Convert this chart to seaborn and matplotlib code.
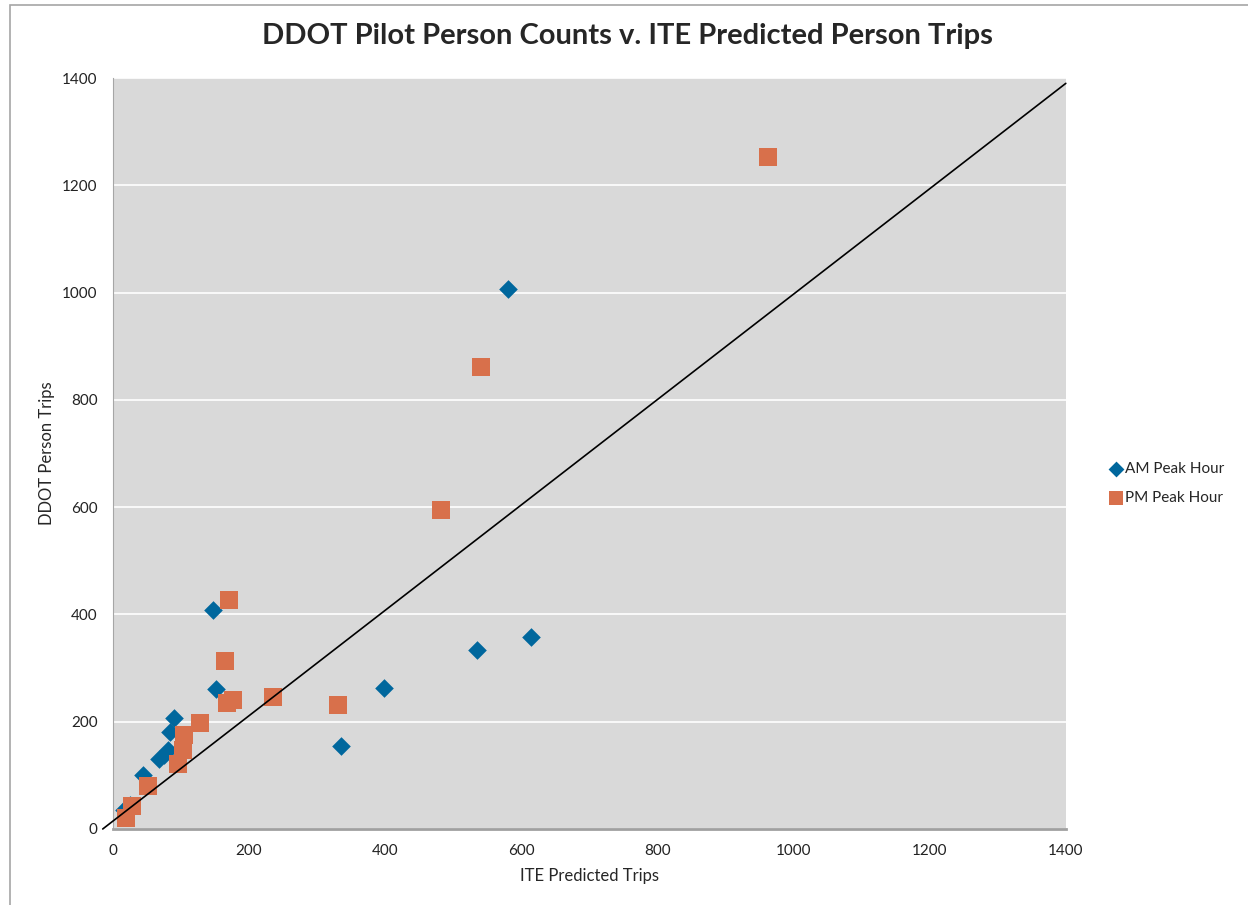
# DDOT Pilot Person Counts vs ITE Predicted Person Trips
import pandas as pd
import matplotlib
matplotlib.use("Agg")
import matplotlib.pyplot as plt
import seaborn as sns
from matplotlib.patches import Rectangle

# AM peak hour points (ITE predicted, DDOT counted)
am_ite = [580, 614, 535, 398, 335, 147, 151, 90, 84, 81, 75, 68, 44, 25, 16]
am_ddot = [1007, 358, 334, 263, 155, 408, 261, 207, 181, 147, 138, 130, 101, 45, 35]

# PM peak hour points
pm_ite = [962, 541, 482, 171, 165, 168, 177, 235, 331, 128, 105, 103, 96, 51, 28, 19]
pm_ddot = [1253, 861, 595, 427, 314, 234, 240, 246, 231, 197, 176, 147, 121, 81, 43, 20]

# reference line (roughly 1:1)
line_x = [-15, 1400]
line_y = [0, 1390]

ticks = [0, 200, 400, 600, 800, 1000, 1200, 1400]

df = pd.concat([
    pd.DataFrame({"ite": am_ite, "ddot": am_ddot, "period": "AM Peak Hour"}),
    pd.DataFrame({"ite": pm_ite, "ddot": pm_ddot, "period": "PM Peak Hour"}),
])

sns.set_style("white")
plt.rcParams["font.family"] = ["Lato", "DejaVu Sans"]

fig = plt.figure(figsize=(12.48, 9.05), dpi=100)
ax = fig.add_axes([0.0905, 0.084, 0.7635, 0.8298])
ax.set_facecolor("#D9D9D9")

colors = {"AM Peak Hour": "#00679D", "PM Peak Hour": "#D8704B"}
markers = {"AM Peak Hour": "D", "PM Peak Hour": "s"}
sizes = {"AM Peak Hour": 90, "PM Peak Hour": 150}

for period, sub in df.groupby("period"):
    sns.scatterplot(data=sub, x="ite", y="ddot", color=colors[period],
                    marker=markers[period], s=sizes[period], linewidth=0,
                    label=period, ax=ax, zorder=3)

ax.plot(line_x, line_y, color="black", linewidth=1.2, clip_on=False, zorder=4)

ax.set_xlim(0, 1400)
ax.set_ylim(0, 1400)
ax.set_xticks(ticks)
ax.set_yticks(ticks)
ax.yaxis.grid(True, color="white", linewidth=1.2)
ax.set_axisbelow(True)
ax.tick_params(axis="both", labelsize=11, colors="#222222", length=0, pad=11)

for side in ["top", "right"]:
    ax.spines[side].set_visible(False)
ax.spines["left"].set_color("#A6A6A6")
ax.spines["bottom"].set_color("#A0A0A0")
ax.spines["bottom"].set_linewidth(2)

ax.set_xlabel("ITE Predicted Trips", fontsize=12, labelpad=7)
ax.set_ylabel("DDOT Person Trips", fontsize=12, labelpad=5)

fig.suptitle("DDOT Pilot Person Counts v. ITE Predicted Person Trips",
             fontsize=21, fontweight="bold", x=0.503, y=0.975)

ax.legend(loc="center left", bbox_to_anchor=(1.035, 0.46), frameon=False,
          fontsize=11, handlelength=0.8, handletextpad=0.2,
          labelspacing=1.0, markerscale=0.85, borderpad=0.2)

# chart border
fig.add_artist(Rectangle((10 / 1248, -0.1), 1.2, (900 / 905) + 0.1,
                         transform=fig.transFigure, fill=False,
                         edgecolor="#A6A6A6", linewidth=1.2))

plt.savefig("out.png", dpi=100)
